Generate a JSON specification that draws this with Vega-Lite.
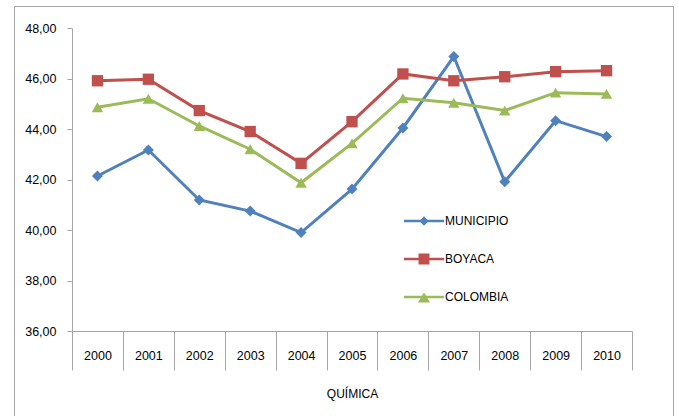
{
  "$schema": "https://vega.github.io/schema/vega-lite/v6.json",
  "width": 659,
  "height": 410,
  "padding": {"left": 14, "top": 6, "right": 6, "bottom": 0},
  "config": {
    "view": {"stroke": "#a6a6a6", "strokeWidth": 1},
    "locale": {"number": {"decimal": ",", "thousands": ".", "grouping": [3], "currency": ["", ""]}},
    "axis": {
      "domainColor": "#a6a6a6", "tickColor": "#a6a6a6", "labelColor": "#000000",
      "labelFont": "Liberation Sans", "labelFontSize": 12.5,
      "titleFont": "Liberation Sans", "titleFontSize": 12, "titleFontWeight": "normal", "titleColor": "#000000",
      "grid": false
    },
    "legend": {
      "labelFont": "Liberation Sans", "labelFontSize": 12, "labelColor": "#000000",
      "symbolStrokeWidth": 0, "padding": 0, "rowPadding": 18, "labelOffset": 7, "symbolSize": 784
    }
  },
  "resolve": {"scale": {"color": "independent", "shape": "independent"}},
  "data": {"values": [
    {"year": "2000", "serie": "MUNICIPIO", "value": 42.14},
    {"year": "2001", "serie": "MUNICIPIO", "value": 43.17},
    {"year": "2002", "serie": "MUNICIPIO", "value": 41.19},
    {"year": "2003", "serie": "MUNICIPIO", "value": 40.75},
    {"year": "2004", "serie": "MUNICIPIO", "value": 39.90},
    {"year": "2005", "serie": "MUNICIPIO", "value": 41.62},
    {"year": "2006", "serie": "MUNICIPIO", "value": 44.04},
    {"year": "2007", "serie": "MUNICIPIO", "value": 46.87},
    {"year": "2008", "serie": "MUNICIPIO", "value": 41.91},
    {"year": "2009", "serie": "MUNICIPIO", "value": 44.33},
    {"year": "2010", "serie": "MUNICIPIO", "value": 43.70},
    {"year": "2000", "serie": "BOYACA", "value": 45.91},
    {"year": "2001", "serie": "BOYACA", "value": 45.97},
    {"year": "2002", "serie": "BOYACA", "value": 44.73},
    {"year": "2003", "serie": "BOYACA", "value": 43.90},
    {"year": "2004", "serie": "BOYACA", "value": 42.64},
    {"year": "2005", "serie": "BOYACA", "value": 44.29},
    {"year": "2006", "serie": "BOYACA", "value": 46.18},
    {"year": "2007", "serie": "BOYACA", "value": 45.91},
    {"year": "2008", "serie": "BOYACA", "value": 46.07},
    {"year": "2009", "serie": "BOYACA", "value": 46.27},
    {"year": "2010", "serie": "BOYACA", "value": 46.31},
    {"year": "2000", "serie": "COLOMBIA", "value": 44.86},
    {"year": "2001", "serie": "COLOMBIA", "value": 45.20},
    {"year": "2002", "serie": "COLOMBIA", "value": 44.12},
    {"year": "2003", "serie": "COLOMBIA", "value": 43.20},
    {"year": "2004", "serie": "COLOMBIA", "value": 41.87},
    {"year": "2005", "serie": "COLOMBIA", "value": 43.43},
    {"year": "2006", "serie": "COLOMBIA", "value": 45.22},
    {"year": "2007", "serie": "COLOMBIA", "value": 45.04},
    {"year": "2008", "serie": "COLOMBIA", "value": 44.73},
    {"year": "2009", "serie": "COLOMBIA", "value": 45.44},
    {"year": "2010", "serie": "COLOMBIA", "value": 45.39}
  ]},
  "encoding": {
    "x": {
      "field": "year", "type": "ordinal",
      "scale": {"type": "band", "range": [58, 618], "paddingInner": 0, "paddingOuter": 0},
      "axis": {
        "title": "QUÍMICA", "orient": "bottom", "offset": -85, "tickBand": "extent", "tickSize": 39,
        "labelAngle": 0, "labelBaseline": "middle", "labelPadding": -15, "titlePadding": 18
      }
    },
    "y": {
      "field": "value", "type": "quantitative",
      "scale": {"domain": [36, 48], "range": [325, 22], "zero": false, "nice": false},
      "axis": {
        "title": null, "orient": "left", "offset": -58, "values": [36, 38, 40, 42, 44, 46, 48],
        "format": ".2f", "tickSize": 5, "labelPadding": 11
      }
    }
  },
  "layer": [
    {
      "data": {"values": [{}]},
      "mark": {"type": "rule", "color": "#a6a6a6", "strokeWidth": 1},
      "encoding": {
        "x": {"datum": "2000", "type": "ordinal", "bandPosition": 0},
        "y": {"datum": 36, "type": "quantitative"},
        "y2": {"datum": 32.91}
      }
    },
    {
      "data": {"values": [{}]},
      "mark": {"type": "rule", "color": "#a6a6a6", "strokeWidth": 1},
      "encoding": {
        "x": {"datum": "2010", "type": "ordinal", "bandPosition": 1},
        "y": {"datum": 36, "type": "quantitative"},
        "y2": {"datum": 32.91}
      }
    },
    {
      "mark": {"type": "line", "strokeWidth": 3},
      "encoding": {
        "color": {
          "field": "serie", "type": "nominal",
          "scale": {"domain": ["MUNICIPIO", "BOYACA", "COLOMBIA"], "range": ["#4F81BD", "#C0504D", "#9BBB59"]},
          "legend": null
        }
      }
    },
    {
      "transform": [{"filter": "datum.serie == 'MUNICIPIO'"}],
      "mark": {"type": "point", "filled": true, "shape": "diamond", "size": 121, "opacity": 1},
      "encoding": {"color": {"field": "serie", "type": "nominal",
        "scale": {"domain": ["MUNICIPIO", "BOYACA", "COLOMBIA"], "range": ["#4F81BD", "#C0504D", "#9BBB59"]},
        "legend": null}}
    },
    {
      "transform": [{"filter": "datum.serie == 'BOYACA'"}],
      "mark": {"type": "point", "filled": true, "shape": "square", "size": 128, "opacity": 1},
      "encoding": {"color": {"field": "serie", "type": "nominal",
        "scale": {"domain": ["MUNICIPIO", "BOYACA", "COLOMBIA"], "range": ["#4F81BD", "#C0504D", "#9BBB59"]},
        "legend": null}}
    },
    {
      "transform": [{"filter": "datum.serie == 'COLOMBIA'"}],
      "mark": {"type": "point", "filled": true, "shape": "triangle-up", "size": 130, "opacity": 1},
      "encoding": {"color": {"field": "serie", "type": "nominal",
        "scale": {"domain": ["MUNICIPIO", "BOYACA", "COLOMBIA"], "range": ["#4F81BD", "#C0504D", "#9BBB59"]},
        "legend": null}}
    },
    {
      "transform": [{"filter": "false"}],
      "mark": {"type": "point", "filled": true, "size": 784, "opacity": 1},
      "encoding": {
        "color": {
          "field": "serie", "type": "nominal",
          "scale": {"domain": ["MUNICIPIO", "BOYACA", "COLOMBIA"], "range": ["#4F81BD", "#C0504D", "#9BBB59"]},
          "legend": {"title": null, "orient": "none", "legendX": 396, "legendY": 201}
        },
        "shape": {
          "field": "serie", "type": "nominal",
          "scale": {
            "domain": ["MUNICIPIO", "BOYACA", "COLOMBIA"],
            "range": [
              "M-1.43,-0.09H1.43V0.09H-1.43Z M0,-0.34L0.34,0L0,0.34L-0.34,0Z",
              "M-1.43,-0.09H1.43V0.09H-1.43Z M-0.39,-0.39H0.39V0.39H-0.39Z",
              "M-1.43,-0.09H1.43V0.09H-1.43Z M0,-0.32L0.43,0.4L-0.43,0.4Z"
            ]
          },
          "legend": {"title": null, "orient": "none", "legendX": 396, "legendY": 201}
        }
      }
    }
  ]
}
